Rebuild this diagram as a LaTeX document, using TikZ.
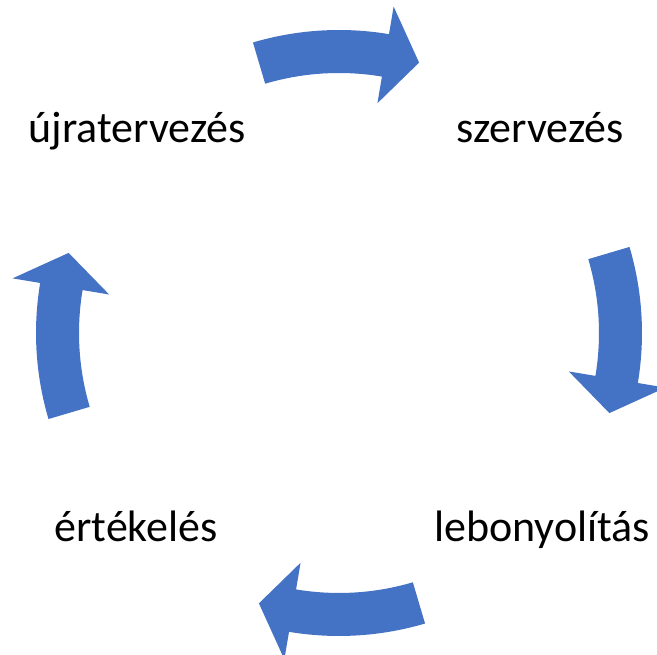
\documentclass[tikz,border=0pt]{standalone}
\usepackage{fontspec}
\setmainfont{Carlito}
\usepackage{tikz}
\definecolor{cycleblue}{HTML}{4472C4}

\begin{document}
\begin{tikzpicture}[x=1pt, y=1pt, phase/.style={anchor=base, font=\fontsize{44}{52}\selectfont}]
    \useasboundingbox (0, 0) rectangle (657, 655);
    \coordinate (c) at (339, 322);

    \node[phase] at (137, 512) (ujra) {újratervezés};
    \node[phase] at (540, 512) (szerv) {szervezés};
    \node[phase] at (542, 113) (lebony) {lebonyolítás};
    \node[phase] at (136, 113) (ertek) {értékelés};

    \foreach \a in {90, 0, -90, 180} {
        \fill[cycleblue, shift={(c)}] (\a+16.5:303) arc[start angle=\a+16.5, end angle=\a-9.5, radius=303]
            -- (\a-9.5:331) -- (\a-16.5:282) -- (\a-9.5:233) -- (\a-9.5:260)
            arc[start angle=\a-9.5, end angle=\a+16.5, radius=260] -- cycle;
    }
\end{tikzpicture}
\end{document}
